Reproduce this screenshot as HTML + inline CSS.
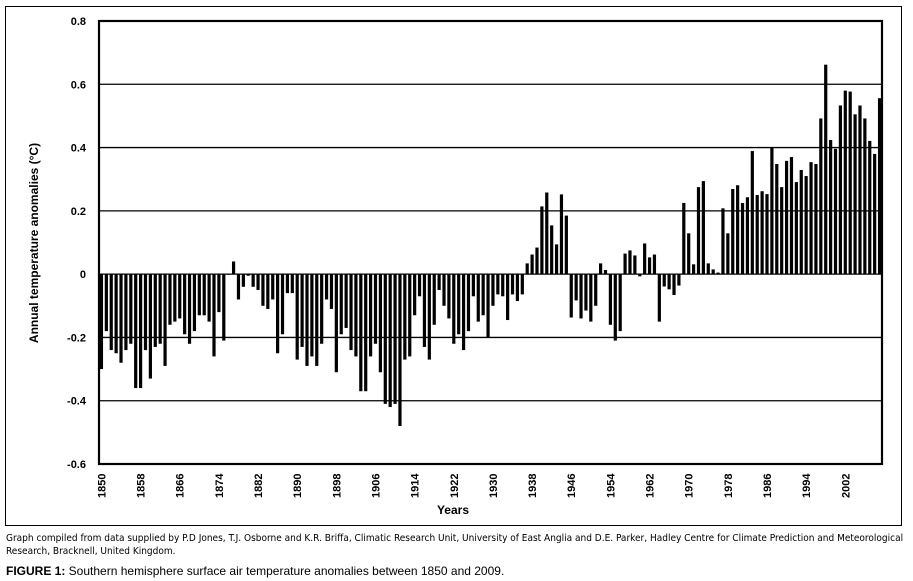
<!DOCTYPE html>
<html><head><meta charset="utf-8"><style>
body{margin:0;background:#fff;width:913px;height:581px;overflow:hidden;font-family:"Liberation Sans",sans-serif}
.cap{position:absolute;left:6px;font-size:10px;color:#000;font-family:"DejaVu Sans Condensed","Liberation Sans",sans-serif}
</style></head><body>
<svg id="chart" width="913" height="528" style="position:absolute;left:0;top:0">
<rect x="5.5" y="6.5" width="896" height="519" fill="none" stroke="#000" stroke-width="1"/>
<g id="grid"></g><g id="bars"></g><g id="axes"></g>
<text transform="translate(38,243) rotate(-90)" text-anchor="middle" font-size="12" font-weight="bold">Annual temperature anomalies (°C)</text>
<text x="453" y="514" text-anchor="middle" font-size="12" font-weight="bold">Years</text>
</svg>
<div class="cap" style="top:532px;width:900px;line-height:13px">Graph compiled from data supplied by P.D Jones, T.J. Osborne and K.R. Briffa, Climatic Research Unit, University of East Anglia and D.E. Parker, Hadley Centre for Climate Prediction and Meteorological Research, Bracknell, United Kingdom.</div>
<div class="cap" style="top:564px;font-size:12px;font-family:'Liberation Sans',sans-serif"><b>FIGURE 1:</b> Southern hemisphere surface air temperature anomalies between 1850 and 2009.</div>
<script>
const startYear=1850;
const anomalies=[-0.30,-0.18,-0.24,-0.25,-0.28,-0.24,-0.22,-0.36,-0.36,-0.24,-0.33,-0.23,-0.22,-0.29,-0.16,-0.15,-0.14,-0.19,-0.22,-0.18,-0.13,-0.13,-0.15,-0.26,-0.12,-0.21,
0.0,0.04,-0.08,-0.04,-0.005,-0.04,-0.05,-0.10,-0.11,-0.08,-0.25,-0.19,-0.06,
-0.06,-0.27,-0.23,-0.29,-0.26,-0.29,-0.22,-0.08,-0.11,-0.31,-0.19,-0.17,-0.24,-0.26,-0.37,-0.37,-0.26,-0.22,-0.31,-0.41,-0.42,-0.41,-0.48,-0.27,-0.26,-0.13,-0.07,-0.23,-0.27,-0.16,-0.05,-0.10,-0.14,-0.22,-0.19,-0.24,-0.18,-0.07,-0.15,-0.13,-0.20,
-0.10,-0.064,-0.07,-0.145,-0.064,-0.085,-0.064,0.034,0.062,0.084,0.214,0.258,0.154,0.094,0.252,0.185,-0.137,-0.083,-0.14,-0.115,-0.15,-0.10,0.034,0.013,-0.16,-0.21,-0.18,0.065,0.075,0.059,-0.007,0.097,0.053,0.062,-0.15,-0.039,-0.048,-0.066,-0.036,
0.225,0.129,0.031,0.275,0.294,0.034,0.015,0.005,0.208,0.129,0.269,0.281,0.225,0.243,0.389,0.25,0.262,0.253,0.40,0.348,0.275,0.358,0.37,0.291,0.329,0.31,0.354,0.348,0.492,0.662,0.424,0.396,0.533,0.58,0.577,0.505,0.533,0.492,0.421,0.38,0.556];
const yTicks=[0.8,0.6,0.4,0.2,0,-0.2,-0.4,-0.6];
const yTickLabels=["0.8","0.6","0.4","0.2","0","-0.2","-0.4","-0.6"];
const xTickYears=[1850,1858,1866,1874,1882,1890,1898,1906,1914,1922,1930,1938,1946,1954,1962,1970,1978,1986,1994,2002];
const NS="http://www.w3.org/2000/svg";
const L=99,R=882,T=21,B=464,yMax=0.8,yMin=-0.6,n=anomalies.length,pitch=(R-L)/n;
const y=v=>T+(yMax-v)/(yMax-yMin)*(B-T);
const xc=i=>L+(i+0.5)*pitch;
function mk(tag,attrs,parent){const e=document.createElementNS(NS,tag);for(const k in attrs)e.setAttribute(k,attrs[k]);document.getElementById(parent).appendChild(e);return e;}
yTicks.forEach((t,i)=>{
 if(t<yMax&&t>yMin){const g=mk('line',{x1:L,x2:R,y1:y(t),y2:y(t),stroke:'#000','stroke-width':1.3},'grid');
 
 }
 const tx=mk('text',{x:86,y:y(t)+4,'text-anchor':'end','font-size':11,'font-weight':'bold'},'axes');
 tx.textContent=yTickLabels[i];
 
 
});
anomalies.forEach((v,i)=>{
 const y0=y(0),y1=y(v);
 const b=mk('rect',{x:xc(i)-1.6,width:3.2,y:Math.min(y0,y1),height:Math.max(Math.abs(y1-y0),0.5),fill:'#000'},'bars');
 
 
});
const fr=mk('rect',{x:L,y:T,width:R-L,height:B-T,fill:'none',stroke:'#000','stroke-width':2.2},'axes');


xTickYears.forEach(yr=>{
 const cx=xc(yr-startYear)+4;
 const tx=mk('text',{transform:`translate(${cx},${498}) rotate(-90)`,'font-size':11,'font-weight':'bold'},'axes');
 tx.textContent=yr;
 
 
});
</script>
</body></html>
